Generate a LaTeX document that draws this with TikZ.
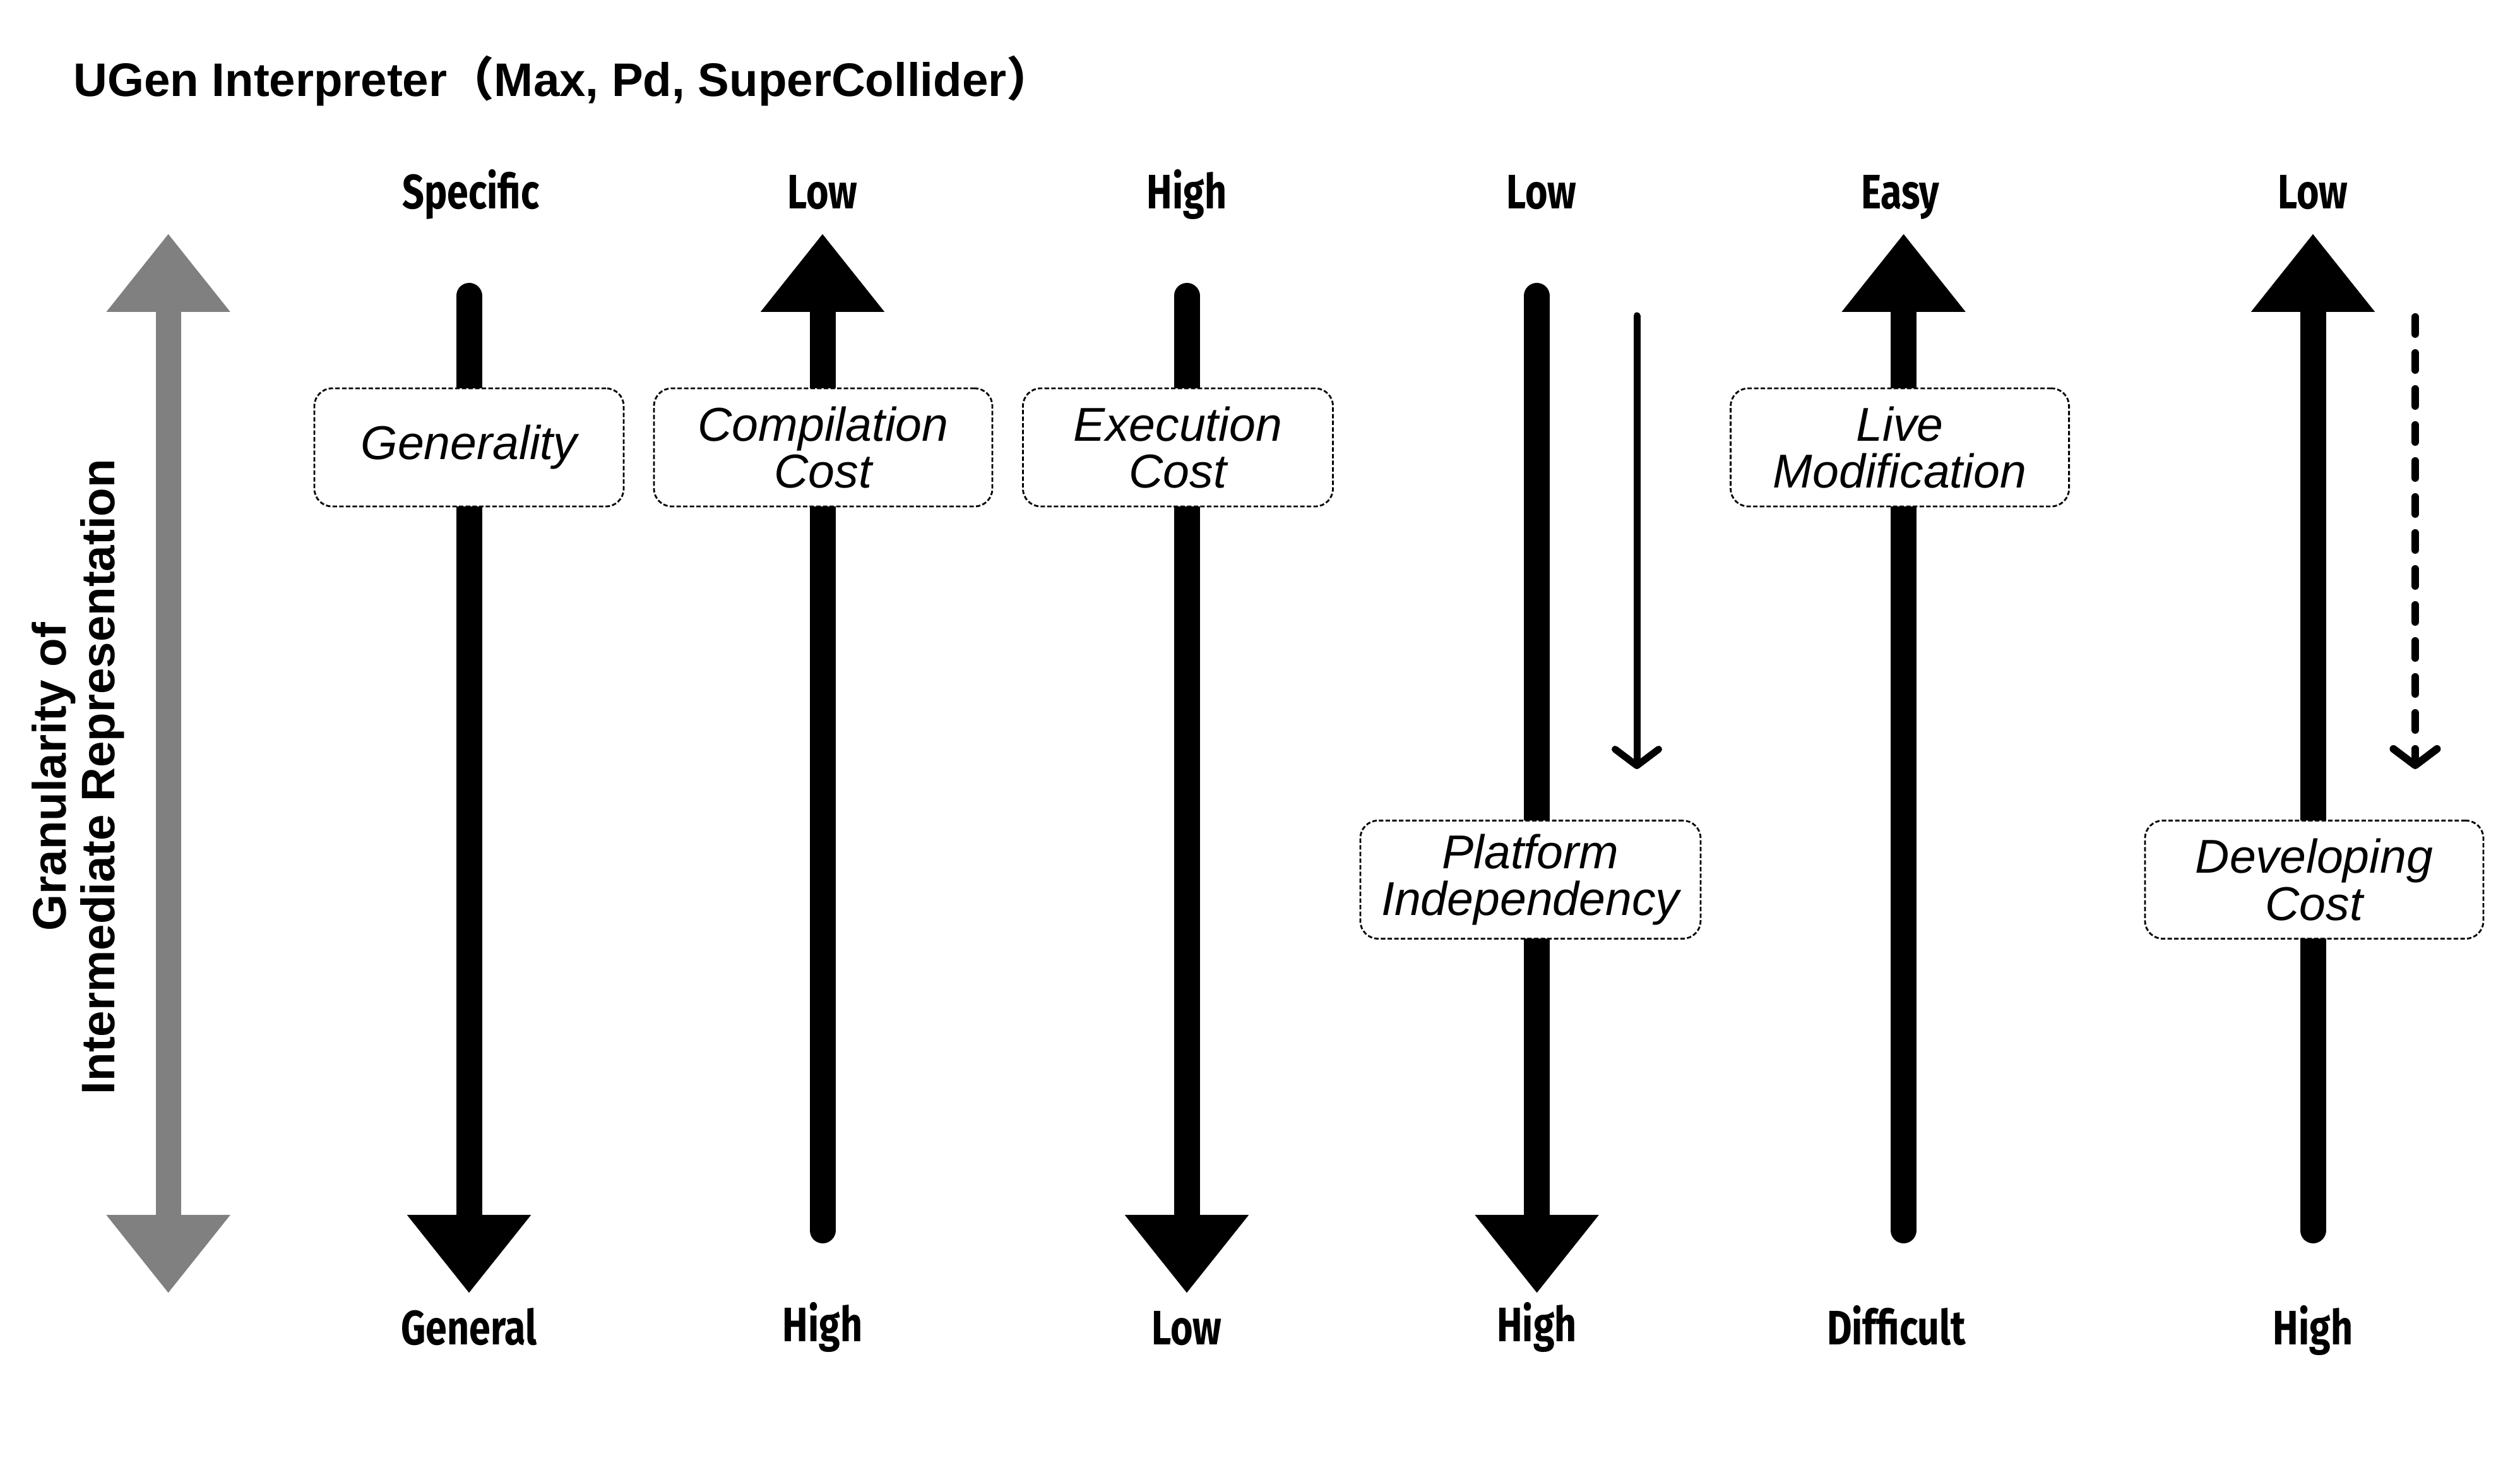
\documentclass[tikz,border=0pt]{standalone}
\usepackage{fontspec}
\setmainfont{Liberation Sans}
\newfontfamily\cjk{Noto Sans CJK JP}
\newfontfamily\labfont[FakeStretch=0.795]{Fira Sans}
\usetikzlibrary{arrows.meta}
\definecolor{axisgray}{RGB}{128,128,128}

\def\yTip{-1.85}
\def\yBot{-10.24}
\def\yTop{-2.3425}
\def\yEnd{-9.7425}
\def\yHi{-1.655}
\def\yLo{-10.65}

\begin{document}
\begin{tikzpicture}[
    axis/.style={line width=2.05mm, line cap=round, -{Triangle[width=9.4mm,length=6.2mm]}},
    graxis/.style={line width=2mm, axisgray,
                   {Triangle[width=9.4mm,length=6.2mm]}-{Triangle[width=9.4mm,length=6.2mm]}},
    hint/.style={line width=0.55mm, line cap=round, -{Straight Barb[length=1.3mm,width=3.45mm,round]}},
    tagbox/.style={draw, fill=white, line width=0.4pt, dash pattern=on 1pt off 0.5pt,
                   rounded corners=0.14cm, minimum width=#1, minimum height=0.935cm,
                   inner sep=0pt, align=center, font=\fontsize{10.7}{10.6}\selectfont\itshape},
    tagbox/.default=2.68cm,
    endlabel/.style={anchor=base, inner sep=0pt, font=\labfont\bfseries\fontsize{10.9}{11}\selectfont}
  ]
    \useasboundingbox (0,0) rectangle (19.96,-11.695);

    %% title and side text
    \node[anchor=base west, inner sep=0pt, font=\bfseries\fontsize{10.6}{12}\selectfont] (title)
         at (0.575,-0.765) {UGen Interpreter{\cjk （}Max, Pd, SuperCollider{\cjk ）}};
    \node[rotate=90, align=center, font=\bfseries\fontsize{10.6}{11}\selectfont] (gran)
         at (0.62,-6.15) {Granularity of\\Intermediate Representation};

    %%   (lable)  (x, y)
    \coordinate (T0) at ( 1.333, \yTip);
    \coordinate (B0) at ( 1.333, \yBot);

    \coordinate (T1) at ( 3.715, \yTop);
    \coordinate (B1) at ( 3.715, \yBot);
    \coordinate (T2) at ( 6.515, \yTip);
    \coordinate (B2) at ( 6.515, \yEnd);
    \coordinate (T3) at ( 9.400, \yTop);
    \coordinate (B3) at ( 9.400, \yBot);
    \coordinate (T4) at (12.173, \yTop);
    \coordinate (B4) at (12.173, \yBot);
    \coordinate (T5) at (15.078, \yTip);
    \coordinate (B5) at (15.078, \yEnd);
    \coordinate (T6) at (18.320, \yTip);
    \coordinate (B6) at (18.320, \yEnd);

    \coordinate (H1) at (12.965, -2.50);
    \coordinate (H2) at (12.965, -6.09);
    \coordinate (D1) at (19.130, -2.51);
    \coordinate (D2) at (19.130, -6.09);

    %% axes
    \draw[graxis] (B0) -- (T0);

    \path[axis] (T1) edge (B1);
    \path[axis] (B2) edge (T2);
    \path[axis] (T3) edge (B3);
    \path[axis] (T4) edge (B4);
    \path[axis] (B5) edge (T5);
    \path[axis] (B6) edge (T6);

    \path[hint] (H1) edge (H2);
    \path[hint, dash pattern=on 1.35mm off 1.5mm, line width=0.6mm] (D1) edge (D2);

    %% boxes on the axes
    \node[tagbox=2.45cm] (Gen)  at ( 3.715,-3.5425) {Generality};
    \node[tagbox]        (Comp) at ( 6.520,-3.5425) {Compilation\\Cost};
    \node[tagbox=2.455cm](Exec) at ( 9.330,-3.5425) {Execution\\Cost};
    \node[tagbox=2.695cm](Plat) at (12.122,-6.965)  {Platform\\Independency};
    \node[tagbox]        (Live) at (15.048,-3.5425) {Live\\Modification};
    \node[tagbox]        (Dev)  at (18.330,-6.965)  {Developing\\Cost};

    %% ends of the axes
    \node[endlabel] (spec)  at ( 3.730, \yHi) {Specific};
    \node[endlabel] (clow)  at ( 6.515, \yHi) {Low};
    \node[endlabel] (ehigh) at ( 9.400, \yHi) {High};
    \node[endlabel] (plow)  at (12.210, \yHi) {Low};
    \node[endlabel] (easy)  at (15.050, \yHi) {Easy};
    \node[endlabel] (dlow)  at (18.320, \yHi) {Low};

    \node[endlabel] (gen)   at ( 3.715, \yLo)    {General};
    \node[endlabel] (chigh) at ( 6.515, -10.625) {High};
    \node[endlabel] (elow)  at ( 9.400, \yLo)    {Low};
    \node[endlabel] (phigh) at (12.173, -10.625) {High};
    \node[endlabel] (diff)  at (15.020, \yLo)    {Difficult};
    \node[endlabel] (dhigh) at (18.320, \yLo)    {High};

  \end{tikzpicture}
\end{document}
